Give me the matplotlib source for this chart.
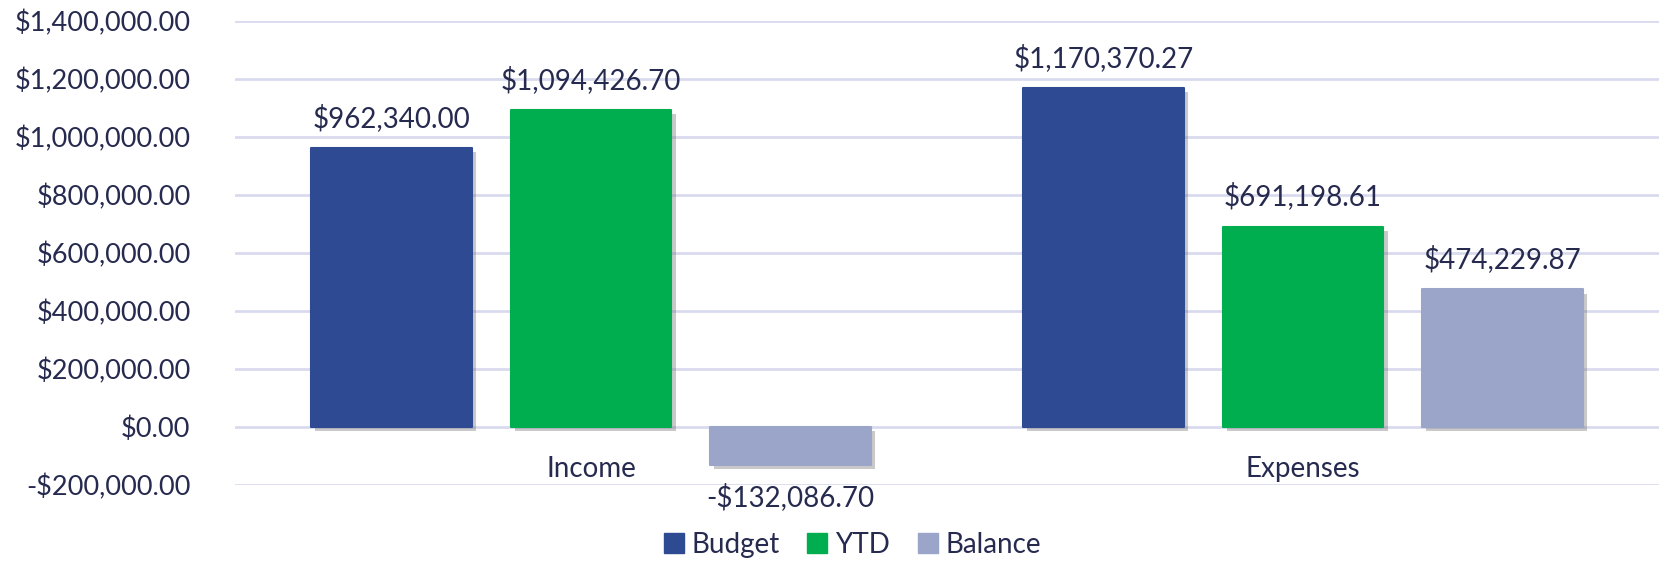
import matplotlib
matplotlib.use("Agg")
import matplotlib.pyplot as plt
import matplotlib.patheffects as pe
from matplotlib.lines import Line2D
from matplotlib.ticker import FuncFormatter
import numpy as np

# budget summary: income vs expenses
categories = ["Income", "Expenses"]
series = ["Budget", "YTD", "Balance"]
budget = [962340.00, 1170370.27]
ytd = [1094426.70, 691198.61]
balance = [-132086.70, 474229.87]
colors = ["#2E4A92", "#00AE50", "#9BA5C9"]

text_color = "#262A4F"
grid_color = "#D9DAEE"
plt.rcParams["font.family"] = ["Lato", "DejaVu Sans"]

fig = plt.figure(figsize=(16.59, 5.63), dpi=100)
ax = fig.add_axes([235 / 1659, 1 - 485 / 563, 1 - 235 / 1659, (485 - 21) / 563])

def money(v, pos=None):
    s = "${:,.2f}".format(abs(v))
    return "-" + s if v < 0 else s

x = np.arange(len(categories))
width = 0.226
step = 0.28
shadow = [pe.SimplePatchShadow(offset=(3, -3), shadow_rgbFace="#666666", alpha=0.35), pe.Normal()]

for i, (name, vals) in enumerate(zip(series, [budget, ytd, balance])):
    pos = x + (i - 1) * step
    bars = ax.bar(pos, vals, width, color=colors[i], edgecolor=colors[i],
                  linewidth=1.5, joinstyle="round", zorder=3, label=name)
    for b in bars:
        b.set_path_effects(shadow)
    for px, v in zip(pos, vals):
        off = 30 if v >= 0 else -32
        ax.annotate(money(v), (px, v), xytext=(0, off), textcoords="offset pixels",
                    ha="center", va="center", fontsize=20, color=text_color)

ax.set_xlim(-0.5, 1.5)
ax.set_ylim(-200000, 1400000)
ax.set_yticks(np.arange(-200000, 1400001, 200000))
ax.yaxis.set_major_formatter(FuncFormatter(money))
ax.tick_params(axis="y", length=0, labelsize=19.5, labelcolor=text_color, pad=32)
ax.set_xticks([])
ax.grid(axis="y", color=grid_color, linewidth=2, zorder=0)
for s in ax.spines.values():
    s.set_visible(False)

for cx, name in zip(x, categories):
    ax.text(cx, -145000, name, ha="center", va="center", fontsize=20, color=text_color)

handles = [Line2D([], [], marker="s", linestyle="none", markersize=14,
                  markerfacecolor=c, markeredgecolor=c) for c in colors]
fig.legend(handles, series, loc="center", bbox_to_anchor=(0.514, 0.032), ncol=3,
           frameon=False, fontsize=20, labelcolor=text_color, handlelength=0.7,
           handletextpad=0.3, columnspacing=1.0)

fig.savefig("out.png", dpi=100)
